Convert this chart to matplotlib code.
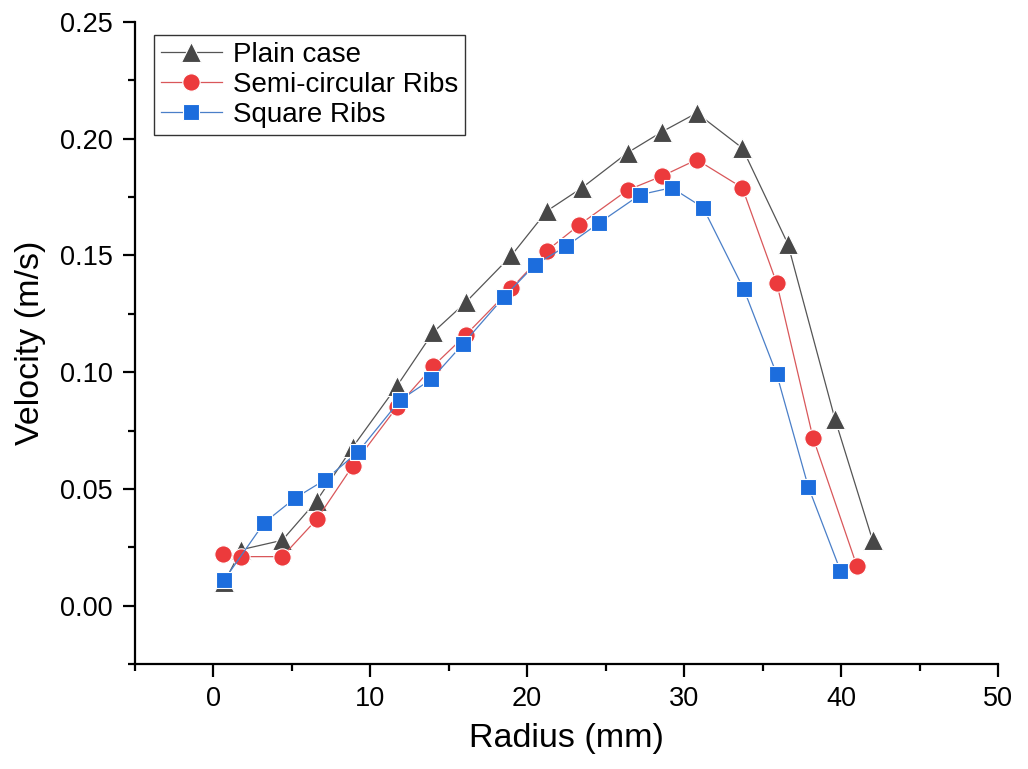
import matplotlib.pyplot as plt
from matplotlib.ticker import MultipleLocator

plt.rcParams["font.family"] = ["Liberation Sans", "DejaVu Sans"]

# Plain case (triangles)
plain_r = [0.7, 1.8, 4.4, 6.6, 8.9, 11.7, 14.0, 16.1, 19.0, 21.25, 23.5,
           26.4, 28.6, 30.8, 33.7, 36.6, 39.6, 42.0]
plain_v = [0.010, 0.024, 0.028, 0.045, 0.068, 0.094, 0.117, 0.130, 0.150,
           0.169, 0.179, 0.194, 0.203, 0.211, 0.196, 0.155, 0.080, 0.028]

# Semi-circular ribs (circles)
semi_r = [0.64, 1.8, 4.4, 6.6, 8.9, 11.7, 14.0, 16.1, 19.0, 21.25, 23.3,
          26.4, 28.6, 30.8, 33.7, 35.9, 38.2, 41.0]
semi_v = [0.022, 0.021, 0.021, 0.037, 0.060, 0.085, 0.1025, 0.116, 0.136,
          0.152, 0.163, 0.178, 0.184, 0.191, 0.179, 0.138, 0.072, 0.017]

# Square ribs (squares)
square_r = [0.7, 3.25, 5.2, 7.15, 9.25, 11.9, 13.9, 15.9, 18.5, 20.5, 22.5,
            24.6, 27.2, 29.2, 31.2, 33.8, 35.9, 37.9, 39.95]
square_v = [0.011, 0.0355, 0.046, 0.054, 0.066, 0.088, 0.097, 0.112, 0.132,
            0.146, 0.154, 0.164, 0.176, 0.179, 0.1705, 0.1355, 0.099, 0.051,
            0.015]

fig = plt.figure(figsize=(10.28, 7.69), dpi=100)
ax = fig.add_axes([0.131, 0.1365, 0.84, 0.835])

ax.plot(plain_r, plain_v, "-^", color="#555555", mfc="#474747", mec="white",
        mew=0.8, ms=14, lw=0.9, label="Plain case")
ax.plot(semi_r, semi_v, "-o", color="#d9575a", mfc="#ec3a3c", mec="white",
        mew=0.8, ms=12.5, lw=0.9, label="Semi-circular Ribs")
ax.plot(square_r, square_v, "-s", color="#4a7fc8", mfc="#1c6ddd", mec="white",
        mew=0.8, ms=11, lw=0.9, label="Square Ribs")

ax.set_xlim(-5, 50)
ax.set_ylim(-0.025, 0.25)
ax.xaxis.set_major_locator(MultipleLocator(10))
ax.xaxis.set_minor_locator(MultipleLocator(5))
ax.yaxis.set_major_locator(MultipleLocator(0.05))
ax.yaxis.set_minor_locator(MultipleLocator(0.025))
ax.yaxis.set_major_formatter(plt.FuncFormatter(lambda v, p: f"{v:.2f}"))

for side in ("top", "right"):
    ax.spines[side].set_visible(False)
for side in ("left", "bottom"):
    ax.spines[side].set_linewidth(1.6)

ax.tick_params(which="major", direction="out", length=9, width=1.6,
               labelsize=19.5, pad=7)
ax.tick_params(which="minor", direction="out", length=5, width=1.6)

ax.set_xlabel("Radius (mm)", fontsize=24.5, labelpad=8)
ax.set_ylabel("Velocity (m/s)", fontsize=24.5, labelpad=10)

leg = ax.legend(loc="upper left", bbox_to_anchor=(0.022, 0.98), fontsize=20,
                frameon=True, fancybox=False, edgecolor="black",
                handlelength=2.2, handletextpad=0.4, borderpad=0.25,
                labelspacing=0.15, borderaxespad=0)
leg.get_frame().set_linewidth(1.0)

fig.savefig("out.png", dpi=100)
